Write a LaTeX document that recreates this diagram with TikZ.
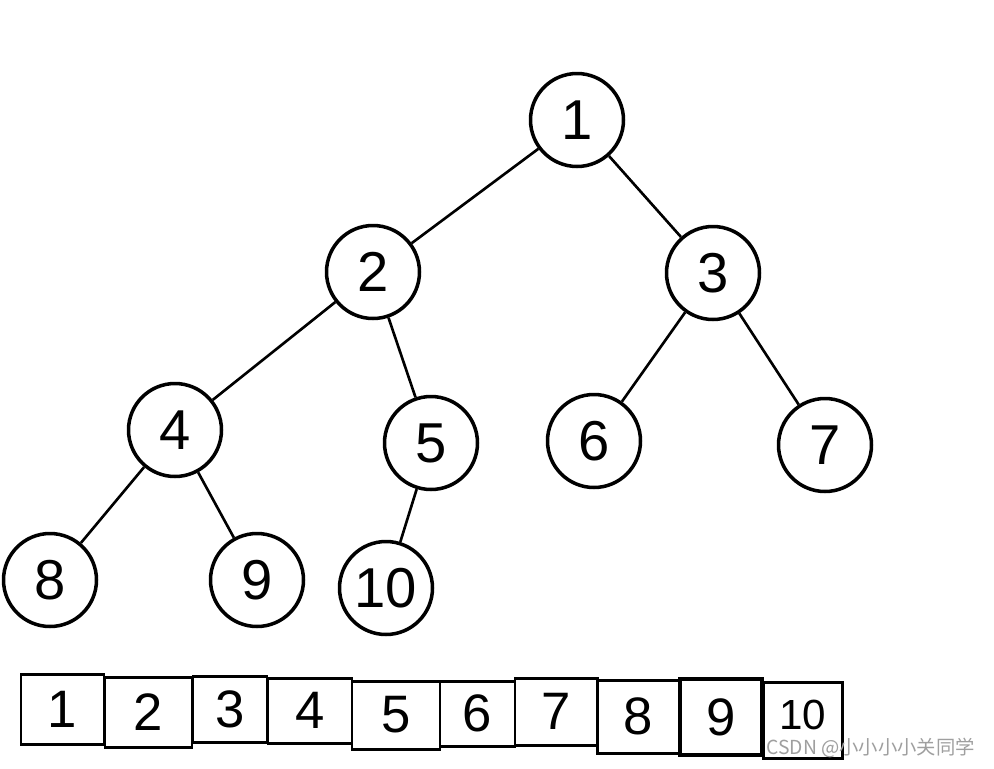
\documentclass[tikz,border=0pt]{standalone}
\usepackage{fontspec}
\setmainfont{Liberation Sans}
\newfontfamily\cjkfont{Noto Sans CJK SC}
\begin{document}
\begin{tikzpicture}[x=0.02cm,y=-0.02cm,
  treenode/.style={circle,draw,line width=2pt,minimum size=1.86cm,inner sep=0pt,font=\fontsize{32}{32}\selectfont},
  edge/.style={line width=1.5pt},
  cell/.style 2 args={draw,line width=1.7pt,minimum width=#1*0.02cm,minimum height=#2*0.02cm,inner sep=0pt,font=\fontsize{30}{30}\selectfont}]
\useasboundingbox[fill=white] (0,0) rectangle (994,768);
% tree
\node[treenode] (n1) at (577,120) {1};
\node[treenode] (n2) at (373,272) {2};
\node[treenode] (n3) at (713,273) {3};
\node[treenode] (n4) at (175,430) {4};
\node[treenode] (n5) at (431,443) {5};
\node[treenode] (n6) at (594,441) {6};
\node[treenode] (n7) at (825,445) {7};
\node[treenode] (n8) at (50,580) {8};
\node[treenode] (n9) at (257,580) {9};
\node[treenode] (n10) at (386,588) {10};
\draw[edge] (n1) -- (n2);
\draw[edge] (n1) -- (n3);
\draw[edge] (n2) -- (n4);
\draw[edge] (n2) -- (n5);
\draw[edge] (n3) -- (n6);
\draw[edge] (n3) -- (n7);
\draw[edge] (n4) -- (n8);
\draw[edge] (n4) -- (n9);
\draw[edge] (n5) -- (n10);
% array
\node[cell={83}{70}] (a1) at (62.5,709) {1};
\node[cell={87}{70}] (a2) at (148.5,712) {2};
\node[cell={74}{66}] (a3) at (230,709) {3};
\node[cell={84}{65}] (a4) at (310,710.5) {4};
\node[cell={88}{68}] (a5) at (396,715) {5};
\node[cell={75}{65}] (a6) at (477.5,713.5) {6};
\node[cell={82}{67}] (a7) at (556,711.5) {7};
\node[cell={83}{73}] (a8) at (638.5,716.5) {8};
\node[cell={82}{76},line width=2.3pt] (a9) at (721,717) {9};
\node[cell={79}{76},font=\fontsize{24}{24}\selectfont,text depth=6pt] (a10) at (802.5,720) {10};
% watermark
\node[text=gray!75,font=\cjkfont\fontsize{11}{12}\selectfont,anchor=west,inner sep=0pt] (wm) at (766,748) {CSDN @小小小小关同学};
\end{tikzpicture}
\end{document}
